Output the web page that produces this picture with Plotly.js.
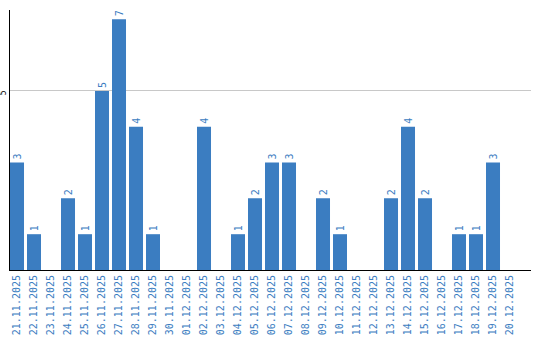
<!DOCTYPE html>
<html><head><meta charset="utf-8">
<script src="https://cdn.plot.ly/plotly-3.0.1.min.js"></script>
<style>html,body{margin:0;padding:0;background:#fff}#c{width:540px;height:340px}</style>
</head><body><div id="c"></div>
<script>
const dates = ["21.11.2025","22.11.2025","23.11.2025","24.11.2025","25.11.2025","26.11.2025","27.11.2025","28.11.2025","29.11.2025","30.11.2025","01.12.2025","02.12.2025","03.12.2025","04.12.2025","05.12.2025","06.12.2025","07.12.2025","08.12.2025","09.12.2025","10.12.2025","11.12.2025","12.12.2025","13.12.2025","14.12.2025","15.12.2025","16.12.2025","17.12.2025","18.12.2025","19.12.2025","20.12.2025"];
const counts = [3,1,0,2,1,5,7,4,1,0,0,4,0,1,2,3,3,0,2,1,0,0,2,4,2,0,1,1,3,0];
const yTicks = [5];
const blue = "#3b7dc1";
const mono = "DejaVu Sans Mono, monospace";
const labels = counts.map(v => v > 0 ? String(v) : "");
Plotly.newPlot("c", [{
  type: "bar", x: dates, y: counts, text: labels, textposition: "outside",
  textangle: -90, cliponaxis: false,
  textfont: {family: mono, size: 10, color: blue},
  marker: {color: blue}, hoverinfo: "none"
}], {
  width: 540, height: 340,
  margin: {l: 10, r: 9, t: 10, b: 70, pad: 0},
  paper_bgcolor: "#fff", plot_bgcolor: "#fff",
  showlegend: false, bargap: 0.176,
  font: {family: mono},
  xaxis: {type: "category", range: [-0.412, 30.235], tickangle: -90, showline: true, linecolor: "#000", linewidth: 1,
    ticks: "", tickfont: {family: mono, size: 10, color: blue}, showgrid: false, zeroline: false, automargin: false},
  yaxis: {range: [0, 7.26], tickvals: yTicks, ticktext: yTicks.map(String), tickangle: -90,
    ticklabelshift: 3,
    showline: true, linecolor: "#000", linewidth: 1, ticks: "",
    tickfont: {family: mono, size: 8, color: "#000"}, gridcolor: "#c8c8c8", zeroline: false, automargin: false}
}, {displayModeBar: false, staticPlot: true});
</script></body></html>
